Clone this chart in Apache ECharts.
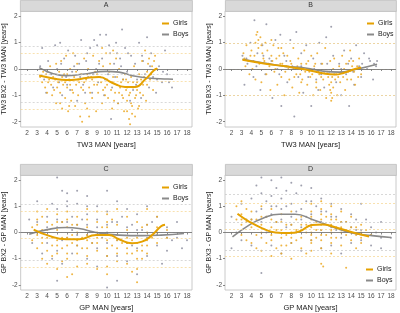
<!DOCTYPE html>
<html>
<head>
<meta charset="utf-8">
<script src="https://cdn.jsdelivr.net/npm/echarts@6/dist/echarts.min.js"></script>
<style>
  html, body { margin: 0; padding: 0; background: #fff; }
  #chart { width: 400px; height: 313px; }
</style>
</head>
<body>
<div id="chart"></div>
<script>
// tick labels
const xTicks = [2, 3, 4, 5, 6, 7, 8, 9, 10, 11, 12, 13, 14, 15, 16, 17, 18];
const yTicks = [-2, -1, 0, 1, 2];
const panelNames = ['A', 'B', 'C', 'D'];
const xNames = ['TW3 MAN [years]', 'TW3 MAN [years]', 'GP MAN [years]', 'GP MAN [years]'];
const yNames = ['TW3 BX2 - TW3 MAN [years]', 'TW3 BX3 - TW3 MAN [years]', 'GP BX2 - GP MAN [years]', 'GP BX3 - GP MAN [years]'];

// points: [age, difference]
const girlsA = [[3.3,-0.3],[3.5,-0.5],[3.6,-0.1],[3.8,-0.7],[3.9,-0.2],[4.0,-0.9],[4.2,-0.4],[4.3,0.1],[4.4,-0.6],[4.5,-1.0],[4.6,-0.3],[4.7,-0.8],[4.9,0.2],[4.9,-1.3],
  [5.1,-0.5],[5.2,-0.1],[5.3,-0.9],[5.4,0.3],[5.5,-1.5],[5.6,-0.6],[5.7,-0.2],[5.8,-1.1],[5.9,0.5],[6.0,-0.7],[6.1,-1.6],[6.2,-0.4],[6.3,0.0],[6.4,-1.2],[6.5,-0.8],[6.6,0.6],[6.7,-0.3],[6.8,-1.4],[6.9,-0.6],
  [7.0,0.2],[7.1,-1.0],[7.2,-0.5],[7.3,-1.8],[7.4,-0.2],[7.5,-2.0],[7.6,-0.8],[7.7,0.4],[7.8,-1.3],[7.9,-0.4],[8.0,-1.5],[8.1,0.0],[8.2,-0.7],[8.4,-0.3],[8.5,-1.1],[8.6,0.5],[8.7,-0.6],[8.9,-1.6],
  [9.0,-0.2],[9.1,-0.9],[9.2,0.3],[9.4,-0.5],[9.5,-1.3],[9.6,0.1],[9.8,-0.7],[9.9,0.6],[10.0,-0.4],[10.1,-1.1],[10.3,0.2],[10.4,-0.8],[10.5,-1.5],[10.6,-0.3],[10.8,-0.9],[10.9,0.4],
  [11.0,-0.6],[11.1,-1.3],[11.2,0.0],[11.3,-0.7],[11.5,-1.0],[11.6,-0.4],[11.7,-1.6],[11.8,-0.2],[11.9,-0.8],[12.0,-1.2],[12.1,-0.5],[12.2,-1.9],[12.3,-0.9],[12.3,-2.1],[12.4,-0.3],[12.5,-1.4],[12.6,-0.7],[12.7,0.1],[12.8,-1.8],[12.9,-1.0],
  [13.0,-0.5],[13.1,-1.5],[13.2,-0.2],[13.3,-0.9],[13.5,0.3],[13.6,-0.6],[13.8,0.7],[13.9,-1.2],[14.0,-0.1],[14.2,0.4],[14.3,-0.4],[14.5,0.1],[14.6,-0.8],[14.8,0.5],[15.0,0.0],
  [4.1,-0.5],[4.8,-0.4],[5.0,-0.7],[5.5,-0.3],[5.8,-0.5],[6.0,-0.2],[6.3,-0.6],[6.6,-0.9],[6.9,-0.1],[7.1,-0.4],[7.4,-0.7],[7.7,-0.5],[8.0,-0.2],[8.3,-0.9],[8.5,-0.4],[8.8,-0.1],[9.0,-0.6],[9.3,-0.3],
  [9.6,-0.8],[9.8,-1.0],[10.0,-0.6],[10.2,-0.1],[10.5,-0.5],[10.7,-1.2],[11.0,-0.3],[11.2,-0.9],[11.4,-0.5],[11.6,-1.1],[11.9,-0.4],[12.0,-0.7],[12.2,-1.0],[12.4,-1.3],[12.6,-0.5],[12.8,-1.1],
  [13.0,-0.8],[13.2,-1.4],[13.4,-0.4],[13.6,-1.0],[13.7,-0.3],[14.0,-0.6],[14.1,0.2],[14.4,-0.2],[14.7,0.3],[9.5,0.8],[10.6,0.7],[8.2,-1.8],[6.2,-1.4],[5.3,-1.3],[12.0,-1.6],[12.5,-1.7]];
const boysA = [[3.3,0.1],[3.5,0.8],[3.7,-0.4],[3.9,-0.9],[4.1,0.3],[4.4,-0.2],[4.6,-0.7],[4.8,0.9],[5.0,0.0],[5.2,-0.5],[5.3,1.0],[5.5,-1.0],[5.7,0.4],[5.9,-0.3],[6.1,0.7],[6.3,-0.8],[6.5,-0.1],[6.8,0.5],
  [7.0,-1.2],[7.2,0.2],[7.4,1.1],[7.6,-0.6],[7.9,0.3],[8.1,-0.3],[8.3,0.8],[8.5,-0.9],[8.7,1.1],[8.9,0.0],[9.1,-0.5],[9.3,1.3],[9.5,0.4],[9.7,-1.0],[9.9,1.3],[10.1,-0.2],[10.3,0.6],[10.4,-1.9],[10.5,-0.7],[10.7,0.2],[10.9,1.0],
  [11.1,-1.3],[11.3,0.4],[11.5,1.5],[11.6,-0.4],[11.8,0.8],[12.0,-0.1],[12.4,0.5],[12.6,-0.8],[12.8,0.2],[13.0,-0.4],[13.2,1.0],[13.4,-1.1],[13.6,0.3],[13.8,-0.2],[14.0,1.2],[14.2,-0.7],[14.4,0.6],[14.6,-0.3],[14.9,-0.9],
  [15.2,0.1],[15.5,-0.5],[15.8,0.7],[16.0,-0.2],[16.2,-0.5],[16.5,-0.7],
  [4.0,-0.1],[5.4,0.2],[6.0,-0.6],[6.7,0.1],[7.3,-0.3],[8.0,0.6],[8.6,-0.2],[9.2,0.2],[9.8,-0.4],[10.2,0.9],[10.8,-0.3],[11.4,0.1],[12.1,0.6],[12.9,-0.6],[13.5,0.5],[14.3,0.1],[15.0,-0.4],[15.6,-0.1],[11.0,0.6],[9.0,0.9],[12.3,-1.2],[7.8,-0.9]];
const girlsB = [[3.2,0.6],[3.4,0.1],[3.5,0.9],[3.7,0.3],[3.8,-0.2],[4.0,0.7],[4.1,0.0],[4.3,0.5],[4.4,-0.4],[4.5,1.3],[4.6,1.4],[4.7,0.8],[4.8,0.2],[4.9,1.2],[5.0,-0.5],[5.1,0.6],[5.3,0.3],[5.4,1.0],[5.5,-0.2],[5.6,0.7],[5.8,0.1],[5.9,-0.8],
  [6.0,0.5],[6.2,0.9],[6.3,-0.1],[6.5,0.4],[6.6,-0.6],[6.7,0.8],[6.9,0.2],[7.0,-0.3],[7.2,0.6],[7.3,-1.0],[7.5,0.1],[7.6,0.5],[7.8,-0.4],[7.9,0.3],[8.1,-0.7],[8.2,0.8],[8.4,0.0],[8.5,-0.2],[8.7,0.4],[8.8,-0.9],
  [9.0,0.2],[9.1,-0.4],[9.3,0.7],[9.4,-0.1],[9.6,-0.6],[9.7,0.3],[9.9,-0.3],[10.0,0.5],[10.2,-1.0],[10.3,0.1],[10.5,-0.5],[10.6,0.6],[10.8,-0.2],[10.9,-0.8],[11.1,0.2],[11.2,-0.4],[11.4,0.8],[11.5,-1.1],[11.6,-0.1],[11.8,-0.6],[11.9,0.3],
  [12.0,-1.2],[12.0,-0.9],[12.1,-0.3],[12.2,-0.7],[12.3,0.4],[12.5,-0.2],[12.6,-1.0],[12.8,0.1],[12.9,-0.5],[13.1,0.5],[13.2,-0.3],[13.4,-0.8],[13.5,0.2],[13.7,-0.1],[13.9,0.7],[14.0,-0.4],[14.2,0.3],[14.4,-0.6],[14.6,0.1],[14.8,0.4],[15.0,-0.2],
  [3.3,0.4],[3.9,0.5],[4.2,0.3],[4.4,1.0],[4.7,1.1],[5.2,0.4],[5.7,0.2],[6.1,0.3],[6.4,0.0],[6.8,0.5],[7.1,0.2],[7.4,-0.1],[7.7,0.0],[8.0,0.2],[8.3,-0.3],[8.6,0.1],[8.9,-0.2],[9.2,0.0],[9.5,0.2],[9.8,-0.1],
  [10.1,-0.2],[10.4,0.2],[10.7,-0.1],[11.0,-0.3],[11.3,-0.1],[11.7,-0.3],[12.0,-0.5],[12.1,-1.1],[12.2,0.0],[12.4,-0.4],[12.7,-0.3],[13.0,-0.1],[13.3,0.0],[13.6,-0.4],[13.8,0.3],[14.1,0.1],[14.3,-0.1],[14.7,-0.3],
  [6.0,1.1],[5.0,0.9],[7.0,0.8],[9.0,-0.5],[10.5,-0.7],[11.9,-0.8]];
const boysB = [[3.1,0.5],[3.3,-0.6],[3.6,0.2],[3.9,1.0],[4.2,-0.3],[4.3,1.85],[4.6,0.6],[4.9,-0.8],[5.1,0.9],[5.4,-0.2],[5.5,1.7],[5.8,0.4],[6.1,-1.1],[6.4,1.1],[6.6,0.0],[6.9,1.3],[7.0,-1.4],[7.3,0.5],[7.6,-0.5],[7.9,1.1],
  [8.1,0.1],[8.3,-1.8],[8.5,1.4],[8.7,-0.3],[9.0,0.6],[9.2,-0.9],[9.5,0.9],[9.8,0.0],[10.0,-1.4],[10.2,0.4],[10.5,-0.4],[10.8,1.0],[11.0,0.2],[11.3,-0.7],[11.5,1.2],[11.8,-0.1],[12.0,1.6],[12.2,0.5],[12.5,-0.5],[12.8,0.2],
  [13.0,-1.0],[13.3,0.7],[13.5,-0.2],[13.8,-1.4],[14.0,0.4],[14.3,-0.6],[14.5,0.9],[14.8,0.1],[15.0,-0.3],[15.3,0.6],[15.6,0.0],[15.9,0.3],[16.2,-0.4],[16.5,0.1],[16.6,0.3],
  [3.5,0.4],[4.5,0.1],[5.2,0.5],[6.0,0.3],[6.8,-0.2],[7.5,0.3],[8.2,0.0],[9.0,0.1],[9.7,-0.3],[10.3,0.0],[11.0,-0.2],[11.6,0.2],[12.3,-0.2],[13.0,0.0],[13.7,0.2],[14.2,-0.1],[15.1,0.2],[15.8,0.4],[16.3,0.2],[10.7,-0.8]];
const girlsC = [[2.5,0.2],[2.5,-0.3],[3,0.8],[3,0.3],[3,-0.1],[3,-0.6],[3,0.5],[3.5,0.1],[3.5,-0.4],[3.5,-1.0],[3.5,0.6],[4,0.9],[4,0.4],[4,-0.2],[4,-0.7],[4,-1.2],[4.5,0.3],[4.5,-0.5],[4.5,-0.9],
  [5,0.7],[5,0.1],[5,-0.3],[5,-0.8],[5,-1.4],[5.5,0.4],[5.5,-0.6],[5.5,-1.1],[6,0.8],[6,0.2],[6,-0.2],[6,-0.5],[6,-1.0],[6,-1.7],[6.5,-0.4],[6.5,-1.6],[6.5,0.3],
  [7,0.6],[7,0.0],[7,-0.3],[7,-0.8],[7,-1.3],[8,0.5],[8,-0.1],[8,-0.6],[8,-1.2],[8,0.9],[9,0.4],[9,-0.2],[9,-0.7],[9,-1.4],[9,0.8],[10,0.7],[10,0.2],[10,-0.3],[10,-0.9],[10,-1.3],[10.5,0.5],[10.5,-0.5],
  [11,0.3],[11,-0.1],[11,-0.6],[11,-1.1],[11,0.9],[12,0.1],[12,-0.4],[12,-0.8],[12,-1.2],[12,0.6],[12.5,-0.3],[12.5,-1.5],[13,0.4],[13,-0.2],[13,-0.7],[13,-1.4],[13,-1.9],[13.5,-0.5],[13.5,0.2],[13.5,-1.0],
  [14,0.9],[14,0.3],[14,-0.3],[14,-0.8],[15,0.2],[15,-0.4],[15,0.6],[16,0.1],[16,-0.2],
  [3,0.0],[3.5,-0.2],[4,0.1],[4.5,-0.2],[5,-0.5],[5,0.4],[5.5,-0.2],[6,-0.8],[6,0.5],[6.5,-0.1],[7,-0.5],[7,0.3],[7.5,-0.2],[7.5,-0.6],[8,0.2],[8,-0.3],[8.5,-0.4],[9,0.0],[9,-0.4],[9.5,0.2],
  [10,-0.1],[10,-0.6],[10,0.4],[11,-0.3],[11,-0.8],[11.5,-0.4],[12,-0.2],[12,-0.6],[12.5,-0.8],[13,-0.4],[13,-1.0],[13.5,-0.7],[14,0.0],[14,-0.5],[14.5,-0.2],[15,0.0],[8,-0.9],[10,-1.6]];
const boysC = [[2.2,0.5],[2.5,-0.4],[3,1.2],[3,0.0],[3.5,-0.8],[4,0.6],[4,-0.4],[4.5,1.1],[4.5,-1.0],[5,2.1],[5,0.9],[5,0.2],[5,-0.7],[5,-1.85],[5.5,1.6],[5.5,0.4],[5.5,-1.2],[6,1.0],[6,-0.2],[6,1.5],[6.5,0.6],[6.5,-0.8],
  [7,1.6],[7,1.1],[7,0.3],[7,-0.5],[8,1.4],[8,0.7],[8,-0.1],[8,-1.0],[9,1.0],[9,0.2],[9,-0.6],[9,-1.3],[10,1.6],[10,0.8],[10,0.0],[10,-0.9],[10,-2.1],[10.5,0.4],[11,1.2],[11,-0.3],[11,-1.85],[11.5,0.6],
  [12,0.9],[12,-0.4],[12,-1.1],[12.5,0.3],[13,0.7],[13,-0.6],[13,-1.6],[13.5,0.1],[14,1.0],[14,-0.2],[14,-0.9],[14.5,0.4],[15,-0.5],[15,0.6],[15.5,-1.2],[16,0.2],[16,-0.7],[16.5,-0.3],[17,0.4],[17,-0.2],[17.5,-0.6],[18,-0.3],
  [3,0.4],[4,0.2],[5,0.5],[5.5,-0.3],[6,0.4],[6.5,0.1],[7,-0.1],[7.5,0.5],[8,0.3],[8.5,-0.4],[9,0.5],[9.5,-0.2],[10,0.3],[10,-0.4],[11,0.4],[11,-0.9],[12,0.2],[12.5,-0.5],[13,0.1],[14,0.3],[15,-0.1],[16,-0.2],[8,1.0],[6,1.2]];
const girlsD = [[2.5,0.5],[2.5,1.0],[3,1.2],[3,0.7],[3,0.3],[3,-0.1],[3.5,0.9],[3.5,0.4],[3.5,-0.3],[4,0.8],[4,0.2],[4,-0.4],[4.5,0.5],[4.5,-0.1],[4.5,-0.6],[5,1.0],[5,0.3],[5,-0.2],[5,-0.7],[5.5,0.6],[5.5,-0.4],
  [6,0.9],[6,0.2],[6,-0.3],[6,-0.9],[6.5,0.4],[6.5,-0.6],[7,0.7],[7,0.1],[7,-0.2],[7,-0.8],[7.5,0.3],[7.5,-0.5],[8,0.8],[8,0.0],[8,-0.4],[8,-1.0],[8.5,0.5],[8.5,-0.3],[9,0.6],[9,0.1],[9,-0.6],[9.5,0.3],[9.5,-0.8],
  [10,1.1],[10,0.8],[10,0.5],[10,0.2],[10,-0.1],[10,-0.4],[10,-0.7],[10.5,0.4],[10.5,-0.2],[11,1.2],[11,0.9],[11,0.5],[11,0.1],[11,-0.3],[11,-0.6],[11,-1.2],[11.2,-1.3],[11.5,0.6],[11.5,-0.1],
  [12,1.0],[12,0.7],[12,0.3],[12,0.0],[12,-0.4],[12,-0.8],[12.5,0.5],[12.5,-0.2],[13,0.8],[13,0.2],[13,-0.5],[13.5,-1.35],[13.5,0.4],[13.5,-0.1],[14,0.6],[14,-0.3],[14.5,0.2],[14.5,-0.6],[15,0.3],[15,-0.2],[15.5,0.1],[16,-0.1],
  [3,0.5],[4,0.5],[5,0.6],[5,0.0],[6,0.5],[6,-0.1],[6.5,0.1],[7,0.4],[7,-0.5],[7.5,-0.1],[8,0.3],[8,-0.2],[9,0.3],[9,-0.2],[10,0.6],[10,0.0],[10,-0.3],[10.5,0.1],[11,0.3],[11,-0.1],[11,0.7],
  [12,0.5],[12,0.1],[12,-0.2],[12.5,0.2],[13,0.4],[13,0.0],[13.5,0.1],[14,0.2],[14,0.0],[15,0.0],[15,-0.4],[14.5,-0.1],[9.5,0.0],[8.5,0.1]];
const boysD = [[2,-0.6],[2,0.6],[2.5,0.0],[3,1.1],[3,-0.3],[3.5,0.5],[4,1.3],[4,-0.5],[4.5,1.8],[4.5,0.8],[5,2.1],[5,1.5],[5,0.4],[5,-1.55],[5.5,1.2],[5.5,0.0],[6,2.0],[6,1.4],[6,0.7],[6,-0.5],[6.5,1.7],[6.5,1.0],
  [7,2.1],[7,1.3],[7,0.5],[7,-0.8],[7.5,1.6],[7.5,0.2],[8,1.9],[8,1.1],[8,0.6],[8,-0.4],[8.5,1.5],[8.5,0.0],[9,1.8],[9,0.9],[9,0.2],[9,-0.7],[9.5,1.2],[10,1.7],[10,0.7],[10,-0.3],[10.5,1.0],
  [11,1.3],[11,0.4],[11,-0.6],[11.5,0.8],[12,1.1],[12,0.2],[12,-0.5],[12.5,0.6],[13,0.9],[13,-0.2],[13,-0.8],[13.5,0.4],[14,0.7],[14,-0.4],[14.5,0.1],[15,1.1],[15,-0.3],[15.5,0.5],[16,0.2],[16,-0.5],[16.5,0.0],[17,0.4],[17,-0.6],[18,-0.2],
  [4,0.5],[5,0.9],[5.5,0.6],[6,1.0],[6.5,0.4],[7,0.9],[7.5,1.0],[8,0.3],[8.5,0.8],[9,0.5],[9.5,0.6],[10,1.2],[10,0.3],[11,0.8],[11,0.1],[12,0.6],[12.5,0.1],[13,0.4],[14,0.2],[14.5,0.5],[15,0.1],[16,-0.1],[17,-0.2]];

// smoothed curves
const fitGirlsA = [[3.2,-0.25],[4.6,-0.36],[5.9,-0.42],[7.0,-0.40],[7.9,-0.34],[9.2,-0.30],[10.5,-0.52],[11.8,-0.68],[12.8,-0.68],[13.8,-0.40],[14.7,-0.05],[15.0,0.02]];
const fitBoysA = [[3.2,0.05],[4.6,-0.18],[5.9,-0.25],[7.5,-0.20],[9.9,-0.09],[11.2,-0.12],[12.5,-0.25],[14.1,-0.34],[16.1,-0.38],[16.6,-0.39]];
const fitGirlsB = [[3.1,0.35],[5.4,0.20],[7.4,0.10],[9.4,-0.02],[11.4,-0.18],[12.4,-0.21],[13.3,-0.14],[14.4,0.00],[15.0,0.06]];
const fitBoysB = [[3.1,0.37],[5.4,0.22],[7.4,0.10],[9.4,0.04],[11.4,-0.09],[12.8,-0.12],[14.4,-0.02],[16.6,0.18]];
const fitGirlsC = [[2.65,0.11],[4.0,-0.10],[5.9,-0.26],[7.2,-0.26],[8.9,-0.10],[10.2,-0.10],[11.2,-0.26],[12.5,-0.41],[13.5,-0.35],[14.5,-0.10],[15.4,0.24],[15.8,0.30]];
const fitBoysC = [[2.2,-0.07],[4.0,0.11],[5.9,0.19],[7.2,0.15],[8.9,0.00],[11.2,-0.10],[13.5,-0.12],[15.4,-0.10],[17.7,-0.04]];
const fitGirlsD = [[2.6,0.72],[3.8,0.41],[5.1,0.16],[6.4,0.00],[7.8,-0.02],[8.8,0.04],[10.1,0.29],[11.1,0.31],[12.4,0.20],[14.1,0.01],[15.8,-0.15]];
const fitBoysD = [[2.1,-0.17],[3.8,0.29],[5.1,0.54],[6.8,0.70],[8.4,0.70],[10.1,0.50],[12.1,0.22],[14.1,-0.02],[16.1,-0.12],[18.0,-0.19]];

// mean, upper and lower limits
const limGirlsA = [-0.46, 0.60, -1.52];
const limBoysA = [-0.20, 0.86, -1.25];
const limGirlsB = [-0.01, 0.97, -1.00];
const limBoysB = [0.00, 0.97, -1.00];
const limGirlsC = [-0.22, 0.82, -1.32];
const limBoysC = [0.02, 1.08, -1.05];
const limGirlsD = [0.12, 1.12, -0.90];
const limBoysD = [0.41, 1.47, -0.68];

const girlsPts = [girlsA, girlsB, girlsC, girlsD];
const boysPts = [boysA, boysB, boysC, boysD];
const girlsFit = [fitGirlsA, fitGirlsB, fitGirlsC, fitGirlsD];
const boysFit = [fitBoysA, fitBoysB, fitBoysC, fitBoysD];
const girlsLim = [limGirlsA, limGirlsB, limGirlsC, limGirlsD];
const boysLim = [limBoysA, limBoysB, limBoysC, limBoysD];

const ORANGE = '#EBA823';
const GREY = '#8E8FA0';
const FONT = 'Liberation Sans, Arial, sans-serif';

// panel boxes [left, top, width, height]
const boxes = [[20, 11, 172, 116], [225, 11, 171, 116], [20, 175, 172, 117], [225, 175, 171, 117]];
const legendPos = [[162, 20], [367, 20], [162, 184], [366, 266]];

const grids = [], xAxes = [], yAxes = [], series = [], legends = [], graphics = [];

boxes.forEach((b, i) => {
    grids.push({ left: b[0], top: b[1], width: b[2], height: b[3], show: true, borderColor: '#bdbdbd', borderWidth: 0.8, backgroundColor: '#fff' });
    xAxes.push({
        type: 'value', gridIndex: i, min: 1.35, max: 18.5,
        name: xNames[i], nameLocation: 'middle', nameGap: 14,
        nameTextStyle: { fontSize: 7.5, color: '#222', fontFamily: FONT },
        axisLine: { show: false }, splitLine: { show: false },
        axisTick: { show: true, length: 2, lineStyle: { color: '#555', width: 0.7 }, customValues: xTicks },
        axisLabel: { fontSize: 6.5, color: '#4d4d4d', margin: 3, fontFamily: FONT, customValues: xTicks }
    });
    yAxes.push({
        type: 'value', gridIndex: i, min: -2.2, max: 2.2,
        name: yNames[i], nameLocation: 'middle', nameGap: 11, nameRotate: 90,
        nameTextStyle: { fontSize: 7, color: '#222', fontFamily: FONT },
        axisLine: { show: false }, splitLine: { show: false },
        axisTick: { show: true, length: 2, lineStyle: { color: '#555', width: 0.7 }, customValues: yTicks },
        axisLabel: { fontSize: 6.5, color: '#4d4d4d', margin: 3, fontFamily: FONT, customValues: yTicks }
    });

    const dotted = (v, c) => ({ yAxis: v, lineStyle: { color: c, type: [2, 2], width: 0.7 } });
    // reference lines
    series.push({
        type: 'line', xAxisIndex: i, yAxisIndex: i, data: [], silent: true, z: 1,
        markLine: {
            symbol: 'none', silent: true, label: { show: false },
            data: [
                ...boysLim[i].map(v => dotted(v, '#c8c8c8')),
                ...girlsLim[i].map(v => dotted(v, '#F6D58E')),
                { yAxis: 0, lineStyle: { color: '#777', type: 'solid', width: 0.9 } }
            ]
        }
    });
    series.push({
        name: 'Boys pts', type: 'scatter', xAxisIndex: i, yAxisIndex: i, data: boysPts[i], z: 2,
        symbolSize: 2, itemStyle: { color: GREY, opacity: 0.85 }, silent: true
    });
    series.push({
        name: 'Girls pts', type: 'scatter', xAxisIndex: i, yAxisIndex: i, data: girlsPts[i], z: 3,
        symbolSize: 2, itemStyle: { color: ORANGE, opacity: 0.85 }, silent: true
    });
    series.push({
        name: 'Boys', type: 'line', xAxisIndex: i, yAxisIndex: i, data: boysFit[i], z: 4,
        smooth: true, showSymbol: false, lineStyle: { color: '#8a8a8a', width: 1.6 }, itemStyle: { color: '#8a8a8a' }
    });
    series.push({
        name: 'Girls', type: 'line', xAxisIndex: i, yAxisIndex: i, data: girlsFit[i], z: 5,
        smooth: true, showSymbol: false, lineStyle: { color: '#E5A100', width: 2 }, itemStyle: { color: '#E5A100' }
    });

    legends.push({
        left: legendPos[i][0], top: legendPos[i][1], orient: 'vertical', itemGap: 4, padding: 0,
        itemWidth: 7, itemHeight: 2, selectedMode: false,
        textStyle: { fontSize: 7, color: '#222', fontFamily: FONT, padding: [0, 0, 0, -1] },
        data: [
            { name: 'Girls', icon: 'rect', itemStyle: { color: '#E5A100' } },
            { name: 'Boys', icon: 'rect', itemStyle: { color: '#8a8a8a' } }
        ]
    });

    // strip header
    graphics.push({
        type: 'rect', left: b[0], top: b[1] - 11, silent: true,
        shape: { width: b[2], height: 11 },
        style: { fill: '#d9d9d9', stroke: '#bdbdbd', lineWidth: 0.8 }
    });
    graphics.push({
        type: 'text', x: b[0] + b[2] / 2, y: b[1] - 5.5, silent: true,
        style: { text: panelNames[i], fill: '#333', font: '7px ' + FONT, textAlign: 'center', textVerticalAlign: 'middle' }
    });
});

const myChart = echarts.init(document.getElementById('chart'), null, { renderer: 'canvas' });
myChart.setOption({
    animation: false,
    backgroundColor: '#fff',
    grid: grids,
    xAxis: xAxes,
    yAxis: yAxes,
    legend: legends,
    series: series,
    graphic: graphics
});
</script>
</body>
</html>
